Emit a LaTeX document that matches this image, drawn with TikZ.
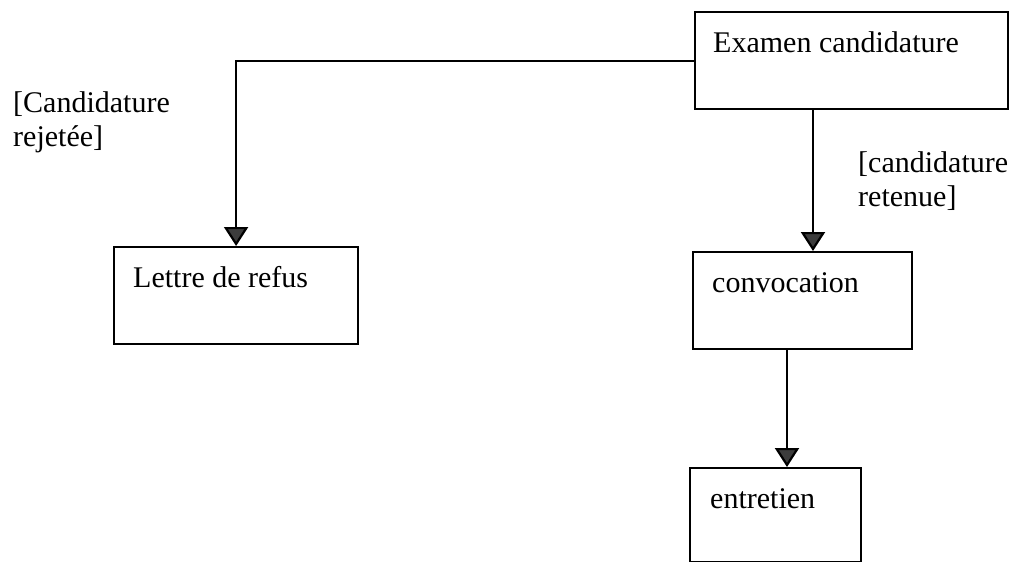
\documentclass[tikz,border=0pt]{standalone}
\usepackage{fontspec}
\setmainfont{Liberation Serif}
\usetikzlibrary{arrows.meta}
\definecolor{tipgray}{HTML}{3C3C3C}
\begin{document}
\begin{tikzpicture}[x=1pt,y=-1pt,
  every node/.style={font=\fontsize{30}{34}\selectfont},
  activity/.style={draw=black, line width=2.2pt, rectangle, anchor=north west, inner sep=0pt},
  caption/.style={anchor=base west, inner sep=0pt},
  guard/.style={anchor=north west, inner sep=0pt, align=left},
  flow/.style={line width=2.2pt, -{Triangle[width=24pt,length=19pt,fill=tipgray]}}]
  \useasboundingbox (0,0) rectangle (1012,562);

  % activity boxes
  \node[activity, minimum width=313pt, minimum height=97pt] (examen) at (694,11) {};
  \node[activity, minimum width=244pt, minimum height=97pt] (refus) at (113,246) {};
  \node[activity, minimum width=219pt, minimum height=97pt] (convoc) at (692,251) {};
  \node[activity, minimum width=171pt, minimum height=94pt] (entretien) at (689,467) {};

  % box captions
  \node[caption] (examen-t) at (713,52) {Examen candidature};
  \node[caption] (refus-t) at (133,287) {Lettre de refus};
  \node[caption] (convoc-t) at (712,292) {convocation};
  \node[caption] (entretien-t) at (710,508) {entretien};

  % guard conditions
  \node[guard] (rejet) at (13,91) {[Candidature\\rejetée]};
  \node[guard] (retenue) at (858,151) {[candidature\\retenue]};

  % transitions
  \coordinate (xa) at (813,0);
  \coordinate (xb) at (787,0);
  \draw[flow] (examen.west) -| (refus.north);
  \draw[flow] (examen.south -| xa) -- (convoc.north -| xa);
  \draw[flow] (convoc.south -| xb) -- (entretien.north -| xb);
\end{tikzpicture}
\end{document}
